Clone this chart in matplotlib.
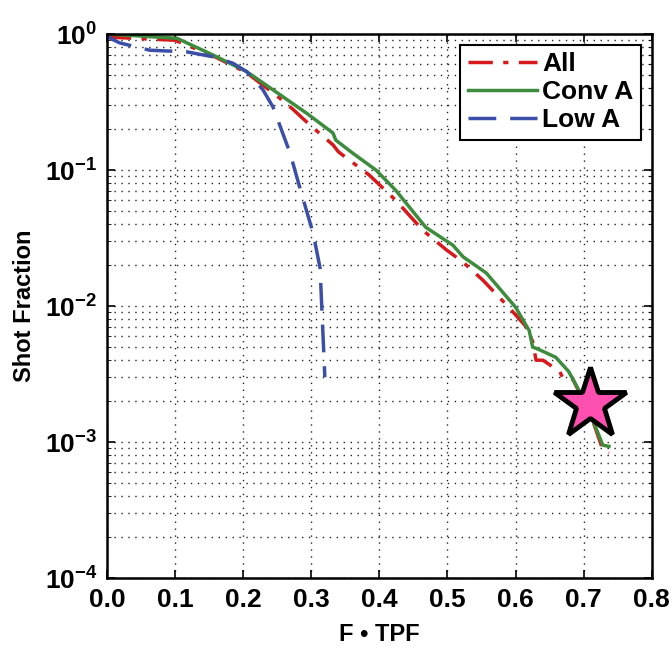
import matplotlib
matplotlib.use('Agg')
import matplotlib.pyplot as plt
from matplotlib.ticker import LogLocator, NullFormatter

# F*TPF vs shot fraction
all_x = [0.0, 0.10, 0.156, 0.205, 0.25, 0.273, 0.30, 0.332, 0.34, 0.385, 0.424, 0.464,
         0.498, 0.523, 0.552, 0.59, 0.615, 0.625, 0.63, 0.64, 0.665, 0.67, 0.684, 0.70,
         0.714, 0.728, 0.737]
all_y = [0.95, 0.90, 0.69, 0.52, 0.35, 0.28, 0.21, 0.153, 0.136, 0.092, 0.060, 0.036,
         0.026, 0.021, 0.0155, 0.0098, 0.0071, 0.0055, 0.0040, 0.0040, 0.0033, 0.0029,
         0.0029, 0.0020, 0.0014, 0.00088, 0.00083]

conv_x = [0.0, 0.103, 0.156, 0.205, 0.25, 0.294, 0.332, 0.336, 0.361, 0.395, 0.424,
          0.468, 0.508, 0.523, 0.557, 0.60, 0.62, 0.625, 0.634, 0.659, 0.678, 0.693,
          0.71, 0.728, 0.737]
conv_y = [1.0, 0.93, 0.70, 0.53, 0.37, 0.26, 0.187, 0.166, 0.133, 0.10, 0.071, 0.038,
          0.028, 0.023, 0.0175, 0.0098, 0.0066, 0.0050, 0.0048, 0.0042, 0.0033, 0.0024,
          0.0016, 0.00095, 0.00093]

low_x = [0.0, 0.005, 0.019, 0.063, 0.117, 0.156, 0.185, 0.205, 0.229, 0.244, 0.269,
         0.283, 0.303, 0.313, 0.317, 0.32]
low_y = [1.0, 0.93, 0.86, 0.76, 0.74, 0.68, 0.61, 0.53, 0.39, 0.29, 0.133, 0.075,
         0.034, 0.019, 0.0066, 0.003]

star_x = 0.709
star_y = 0.0019

xticks = [0.0, 0.1, 0.2, 0.3, 0.4, 0.5, 0.6, 0.7, 0.8]

plt.rcParams['font.family'] = ['Liberation Sans', 'DejaVu Sans']
plt.rcParams['font.weight'] = 'bold'

fig = plt.figure(figsize=(6.72, 6.54), dpi=100)
ax = fig.add_axes([0.159, 0.116, 0.811, 0.832])

ax.semilogy(all_x, all_y, color='#d7191c', lw=2.5, dashes=(7, 3, 1.5, 3), label='All')
ax.semilogy(conv_x, conv_y, color='#3d8b3d', lw=2.5, label='Conv A')
ax.semilogy(low_x, low_y, color='#3b4fa8', lw=2.5, dashes=(8, 4), label='Low A')
ax.plot(star_x, star_y, marker='*', ms=54, mfc='#ff4fb0', mec='black', mew=3.5,
        linestyle='none', zorder=5)

ax.set_xlim(0, 0.8)
ax.set_ylim(1e-4, 1)
ax.set_xticks(xticks)
ax.set_xticklabels([f'{t:.1f}' for t in xticks])
ax.yaxis.set_major_locator(LogLocator(base=10, numticks=10))
ax.yaxis.set_minor_locator(LogLocator(base=10, subs=range(2, 10), numticks=10))
ax.yaxis.set_minor_formatter(NullFormatter())

ax.grid(True, which='major', color='#222222', linestyle=(0, (1, 4)), lw=1.0)
ax.grid(True, which='minor', axis='y', color='#222222', linestyle=(0, (1, 4)), lw=1.0)

ax.tick_params(axis='both', which='major', labelsize=19, direction='in', length=6, width=1.2,
               pad=7, right=True, top=True)
ax.tick_params(axis='y', which='minor', direction='in', length=3, right=True)
for s in ax.spines.values():
    s.set_linewidth(1.8)

ax.set_xlabel('F • TPF', fontsize=17, fontweight='bold', labelpad=8)
ax.set_ylabel('Shot Fraction', fontsize=17, fontweight='bold', labelpad=6)

leg = ax.legend(loc='upper right', fontsize=19, frameon=True, fancybox=False,
                edgecolor='black', framealpha=1, handlelength=2.6, handletextpad=0.2,
                borderpad=0.3, labelspacing=0.15, borderaxespad=0.4)
leg.get_frame().set_linewidth(1.5)

fig.savefig('out.png', dpi=100)
